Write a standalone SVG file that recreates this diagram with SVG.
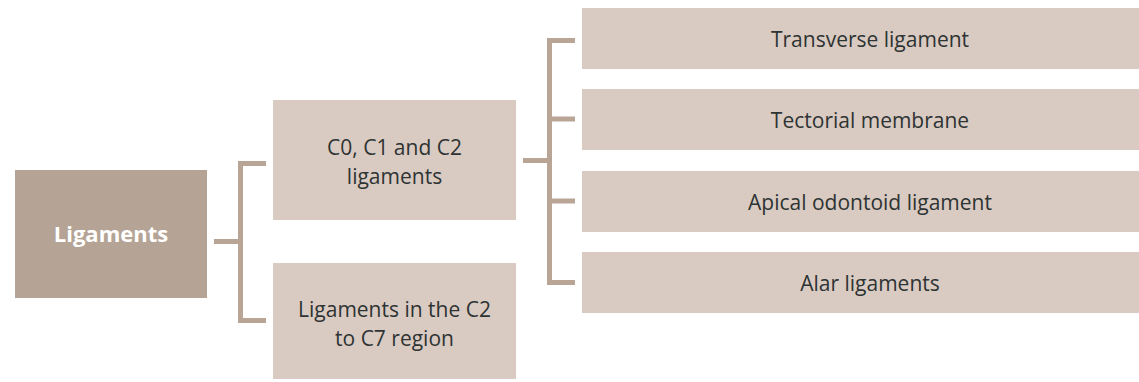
<svg xmlns="http://www.w3.org/2000/svg" width="1139" height="382" viewBox="0 0 1139 382">
  <style>
    .root { fill: #b5a495; }
    .box { fill: #d9cbc2; }
    .lbl { font-family: "Open Sans", "Liberation Sans", sans-serif; font-size: 21px; fill: #2e3333; text-anchor: middle; }
    .rootlbl { font-family: "Open Sans", "Liberation Sans", sans-serif; font-size: 22px; font-weight: bold; fill: #ffffff; text-anchor: middle; }
    .conn { fill: none; stroke: #b8a596; stroke-width: 5; }
  </style>

  <!-- bracket connectors -->
  <g id="connectors">
    <path class="conn" d="M214,241.5 H240.5"/>
    <path class="conn" d="M266,163.5 H240.5 V320.5 H266"/>
    <path class="conn" d="M523,160.5 H549.5"/>
    <path class="conn" d="M575,40.5 H549.5 V282.5 H575"/>
    <path class="conn" d="M549.5,119 H575"/>
    <path class="conn" d="M549.5,201 H575"/>
  </g>

  <g id="n-ligaments">
    <rect class="root" x="15" y="170" width="192" height="128"/>
    <text class="rootlbl" x="111" y="242">Ligaments</text>
  </g>

  <g id="n-c0c1c2">
    <rect class="box" x="273" y="100" width="243" height="120"/>
    <text class="lbl" x="394.5" y="155">C0, C1 and C2</text>
    <text class="lbl" x="394.5" y="184">ligaments</text>
  </g>

  <g id="n-c2c7">
    <rect class="box" x="273" y="263" width="243" height="116"/>
    <text class="lbl" x="394.5" y="317">Ligaments in the C2</text>
    <text class="lbl" x="394.5" y="346">to C7 region</text>
  </g>

  <g id="n-transverse">
    <rect class="box" x="582" y="8" width="557" height="61"/>
    <text class="lbl" x="870" y="47">Transverse ligament</text>
  </g>

  <g id="n-tectorial">
    <rect class="box" x="582" y="89" width="557" height="61"/>
    <text class="lbl" x="870" y="128">Tectorial membrane</text>
  </g>

  <g id="n-apical">
    <rect class="box" x="582" y="171" width="557" height="61"/>
    <text class="lbl" x="870" y="210">Apical odontoid ligament</text>
  </g>

  <g id="n-alar">
    <rect class="box" x="582" y="252" width="557" height="61"/>
    <text class="lbl" x="870" y="291">Alar ligaments</text>
  </g>
</svg>
